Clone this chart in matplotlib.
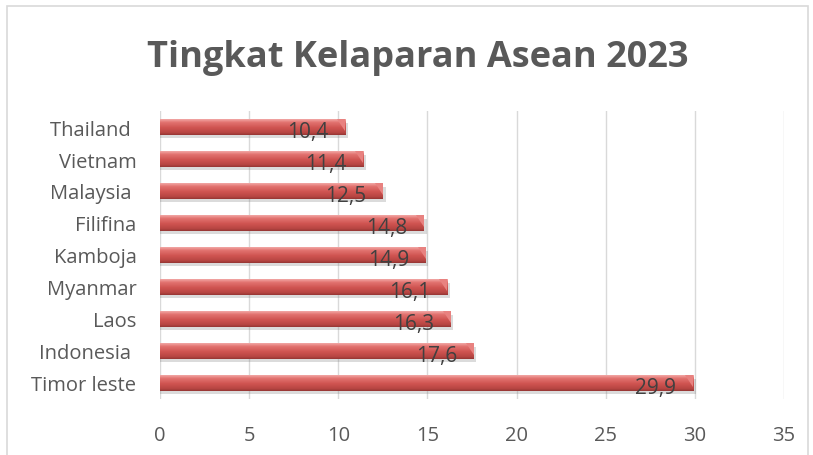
import matplotlib
matplotlib.use("Agg")
import matplotlib.pyplot as plt
import numpy as np
from matplotlib.patches import Rectangle
from matplotlib.colors import LinearSegmentedColormap

categories = ["Thailand ", "Vietnam", "Malaysia ", "Filifina", "Kamboja",
              "Myanmar", "Laos", "Indonesia ", "Timor leste"]
values = [10.4, 11.4, 12.5, 14.8, 14.9, 16.1, 16.3, 17.6, 29.9]
labels = ["10,4", "11,4", "12,5", "14,8", "14,9", "16,1", "16,3", "17,6", "29,9"]
xticks = [0, 5, 10, 15, 20, 25, 30, 35]
title = "Tingkat Kelaparan Asean 2023"
caption = "Diagram Tingkat Kelaparan Asean 2023"

W, H = 813, 456
fig = plt.figure(figsize=(W / 100, H / 100), dpi=100)
fig.patch.set_facecolor("white")

# cut-off caption of the document above the chart (only descenders visible)
fig.text(210 / W, 1.0 + 9 / H, caption, ha="left", va="baseline",
         fontsize=23.5, fontweight="bold", family="Liberation Serif", color="black")

# chart border
fig.add_artist(Rectangle((7 / W, -0.05), 801 / W, (H - 7) / H + 0.05,
                         transform=fig.transFigure, fill=False,
                         edgecolor="#D9D9D9", linewidth=1.2))

ax = fig.add_axes([160 / W, 1 - 400 / H, 624 / W, 288 / H])
ax.set_xlim(0, 35)
n = len(categories)
ax.set_ylim(n - 0.5, -0.5)

cmap = LinearSegmentedColormap.from_list(
    "bar", [(0.0, "#F2A8A6"), (0.2, "#E27370"), (0.55, "#CF5350"),
            (0.85, "#B84643"), (1.0, "#963634")])
grad = np.linspace(0, 1, 64).reshape(-1, 1)
bh = 0.47
for i, (v, lab) in enumerate(zip(values, labels)):
    # shadow
    ax.barh(i + 0.1, v + 0.15, height=bh, color="#7F7F7F", alpha=0.28,
            zorder=2, linewidth=0)
    ax.imshow(grad, cmap=cmap, aspect="auto", zorder=3,
              extent=(0, v, i + bh / 2, i - bh / 2), interpolation="bilinear")
    # right-end bevel
    ax.fill([v - 0.45, v, v], [i - bh / 2, i - bh / 2, i + bh / 2 - 0.1],
            color="#E88280", zorder=4, linewidth=0)
    ax.annotate(lab, (v, i), xytext=(-12, -3), textcoords="offset points",
                ha="right", va="center", fontsize=15, color="#404040",
                family="Open Sans", zorder=5)

ax.set_yticks(range(n))
ax.set_yticklabels(categories)
ax.set_xticks(xticks)
ax.set_xticklabels([str(t) for t in xticks])
ax.tick_params(axis="both", length=0, labelsize=14.5, colors="#595959")
ax.tick_params(axis="x", pad=19)
ax.tick_params(axis="y", pad=17)
for lab in ax.get_xticklabels() + ax.get_yticklabels():
    lab.set_family("Open Sans")
ax.grid(axis="x", color="#D9D9D9", linewidth=1, zorder=0)
ax.set_axisbelow(True)
for s in ax.spines.values():
    s.set_visible(False)

fig.text(418 / W, 1 - 58 / H, title, ha="center", va="center", fontsize=26,
         fontweight="bold", family="Open Sans", color="#595959")

fig.savefig("out.png", dpi=100)
